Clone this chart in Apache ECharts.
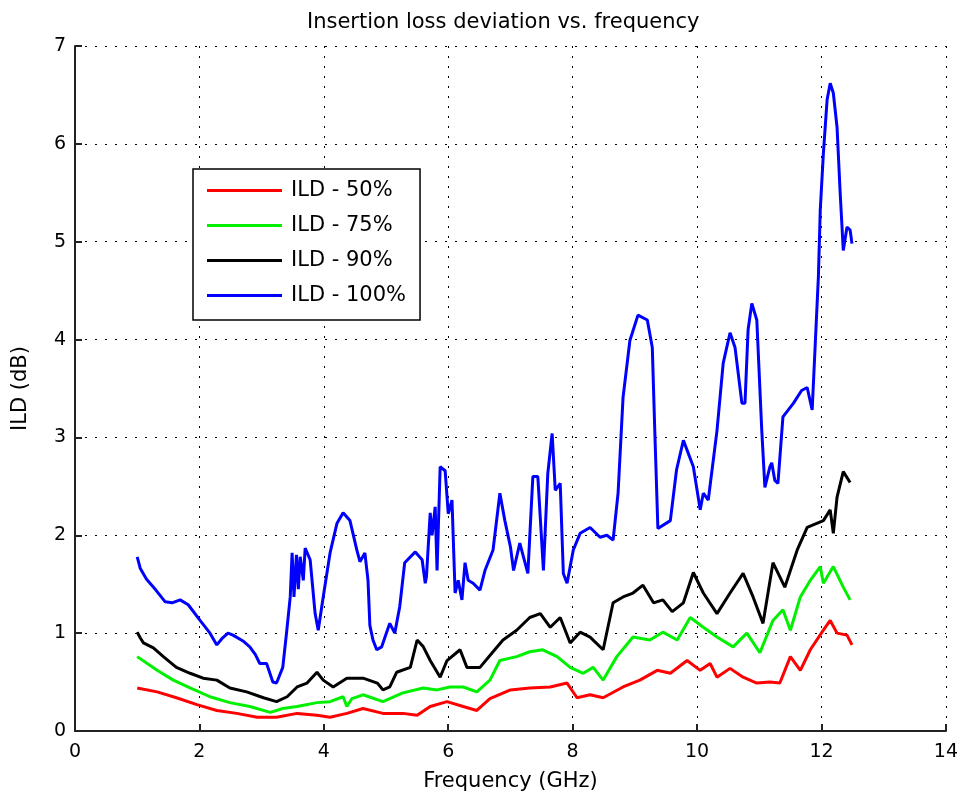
<!DOCTYPE html>
<html>
<head>
<meta charset="utf-8">
<title>Insertion loss deviation vs. frequency</title>
<script src="https://cdn.jsdelivr.net/npm/echarts@6/dist/echarts.min.js"></script>
<style>
  html, body { margin: 0; padding: 0; background: #fff; }
  #chart { width: 961px; height: 802px; }
</style>
</head>
<body>
<div id="chart"></div>
<script>
// values, [frequency GHz, ILD dB]
const seriesNames = ['ILD - 50%', 'ILD - 75%', 'ILD - 90%', 'ILD - 100%'];
const xTicks = [0, 2, 4, 6, 8, 10, 12, 14];
const yTicks = [0, 1, 2, 3, 4, 5, 6, 7];

const ild50 = [
  [1.0,0.44],[1.32,0.4],[1.63,0.34],[1.96,0.27],[2.28,0.21],[2.6,0.18],[2.93,0.14],[3.24,0.14],
  [3.57,0.18],[3.89,0.16],[4.1,0.14],[4.37,0.18],[4.63,0.23],[4.95,0.18],[5.27,0.18],[5.5,0.16],
  [5.71,0.25],[5.98,0.3],[6.24,0.25],[6.46,0.21],[6.67,0.33],[7.0,0.42],[7.31,0.44],[7.64,0.45],
  [7.91,0.49],[8.07,0.34],[8.28,0.37],[8.49,0.34],[8.81,0.45],[9.08,0.52],[9.36,0.62],[9.57,0.59],
  [9.84,0.72],[10.05,0.62],[10.21,0.69],[10.32,0.55],[10.53,0.64],[10.74,0.55],[10.96,0.49],[11.17,0.5],
  [11.33,0.49],[11.5,0.76],[11.66,0.62],[11.82,0.83],[12.03,1.03],[12.14,1.13],[12.25,1.0],[12.41,0.98],[12.49,0.88]
];

const ild75 = [
  [1.0,0.76],[1.32,0.62],[1.58,0.52],[1.85,0.44],[2.17,0.35],[2.49,0.29],[2.81,0.25],[3.14,0.19],
  [3.34,0.23],[3.57,0.25],[3.89,0.29],[4.1,0.3],[4.31,0.35],[4.37,0.25],[4.45,0.33],[4.63,0.37],
  [4.95,0.3],[5.27,0.39],[5.6,0.44],[5.82,0.42],[6.03,0.45],[6.24,0.45],[6.46,0.4],[6.67,0.52],
  [6.83,0.72],[7.1,0.76],[7.31,0.81],[7.52,0.83],[7.75,0.76],[7.96,0.65],[8.17,0.59],[8.33,0.65],
  [8.49,0.52],[8.71,0.76],[8.97,0.96],[9.24,0.93],[9.45,1.01],[9.68,0.93],[9.89,1.16],[10.1,1.06],
  [10.32,0.96],[10.58,0.86],[10.8,1.0],[11.01,0.8],[11.22,1.13],[11.38,1.24],[11.5,1.03],[11.66,1.37],
  [11.82,1.54],[11.98,1.68],[12.03,1.51],[12.19,1.68],[12.35,1.47],[12.46,1.34]
];

const ild90 = [
  [1.0,1.01],[1.05,0.95],[1.1,0.9],[1.26,0.85],[1.42,0.76],[1.63,0.65],[1.85,0.59],[2.06,0.54],
  [2.28,0.52],[2.49,0.44],[2.76,0.4],[3.03,0.34],[3.24,0.3],[3.41,0.35],[3.57,0.45],[3.73,0.49],
  [3.89,0.6],[3.99,0.52],[4.15,0.45],[4.37,0.54],[4.63,0.54],[4.86,0.49],[4.95,0.42],[5.06,0.45],
  [5.17,0.6],[5.39,0.65],[5.5,0.93],[5.6,0.86],[5.71,0.72],[5.87,0.55],[5.98,0.72],[6.19,0.83],
  [6.3,0.65],[6.51,0.65],[6.72,0.81],[6.88,0.93],[7.1,1.03],[7.31,1.16],[7.48,1.2],[7.64,1.06],
  [7.8,1.16],[7.96,0.9],[8.12,1.01],[8.28,0.96],[8.49,0.83],[8.65,1.31],[8.81,1.37],[8.97,1.41],
  [9.13,1.49],[9.3,1.31],[9.45,1.34],[9.6,1.22],[9.78,1.31],[9.94,1.62],[10.1,1.41],[10.32,1.2],
  [10.53,1.41],[10.74,1.61],[10.9,1.37],[11.06,1.1],[11.22,1.72],[11.41,1.47],[11.61,1.85],[11.77,2.08],
  [12.03,2.15],[12.14,2.26],[12.19,2.02],[12.25,2.39],[12.35,2.65],[12.46,2.54]
];

const ild100 = [
  [1.0,1.78],[1.05,1.66],[1.15,1.55],[1.3,1.44],[1.45,1.32],[1.56,1.31],[1.69,1.34],[1.82,1.29],
  [2.01,1.13],[2.17,1.0],[2.28,0.88],[2.37,0.95],[2.46,1.0],[2.54,0.98],[2.7,0.92],[2.81,0.86],
  [2.9,0.78],[2.97,0.69],[3.08,0.69],[3.18,0.5],[3.24,0.49],[3.34,0.65],[3.4,1.0],[3.46,1.37],
  [3.49,1.82],[3.52,1.37],[3.56,1.8],[3.59,1.45],[3.62,1.78],[3.67,1.54],[3.7,1.87],[3.78,1.75],
  [3.86,1.2],[3.91,1.03],[3.99,1.37],[4.1,1.82],[4.21,2.12],[4.31,2.23],[4.42,2.15],[4.53,1.85],
  [4.58,1.73],[4.66,1.82],[4.71,1.54],[4.74,1.08],[4.79,0.93],[4.85,0.83],[4.93,0.86],[5.06,1.1],
  [5.14,1.0],[5.22,1.27],[5.3,1.72],[5.47,1.83],[5.58,1.75],[5.63,1.51],[5.65,1.58],[5.71,2.23],
  [5.74,2.0],[5.79,2.29],[5.82,1.64],[5.87,2.7],[5.95,2.66],[6.0,2.22],[6.06,2.36],[6.11,1.41],
  [6.16,1.54],[6.22,1.34],[6.27,1.72],[6.32,1.54],[6.4,1.51],[6.51,1.44],[6.59,1.64],[6.72,1.85],
  [6.83,2.43],[6.91,2.15],[7.0,1.88],[7.05,1.64],[7.15,1.92],[7.28,1.61],[7.36,2.6],[7.44,2.6],
  [7.53,1.64],[7.6,2.63],[7.67,3.04],[7.72,2.46],[7.8,2.53],[7.85,1.61],[7.91,1.51],[8.01,1.85],
  [8.12,2.02],[8.28,2.08],[8.44,1.98],[8.55,2.0],[8.65,1.95],[8.73,2.43],[8.81,3.41],[8.92,3.99],
  [9.05,4.25],[9.2,4.2],[9.28,3.92],[9.32,3.07],[9.37,2.07],[9.57,2.15],[9.67,2.67],[9.78,2.97],
  [9.94,2.7],[10.05,2.26],[10.1,2.43],[10.18,2.36],[10.32,3.07],[10.42,3.76],[10.53,4.07],[10.61,3.92],
  [10.72,3.35],[10.77,3.35],[10.82,4.1],[10.88,4.37],[10.96,4.2],[11.04,3.07],[11.09,2.49],[11.17,2.7],
  [11.2,2.74],[11.25,2.56],[11.3,2.53],[11.38,3.21],[11.55,3.35],[11.68,3.48],[11.77,3.51],[11.85,3.28],
  [11.9,3.96],[11.95,4.64],[11.98,5.32],[12.03,5.9],[12.09,6.45],[12.14,6.62],[12.19,6.52],[12.25,6.17],
  [12.3,5.5],[12.33,5.15],[12.35,4.91],[12.41,5.15],[12.46,5.12],[12.49,4.98]
];

const colors = ['#ff0000', '#00f000', '#000000', '#0000ff'];
const font = 'DejaVu Sans';

const myChart = echarts.init(document.getElementById('chart'), null, { renderer: 'canvas' });

const seriesData = [ild50, ild75, ild90, ild100];
const series = seriesData.map((d, i) => ({
  name: seriesNames[i],
  type: 'line',
  data: d,
  showSymbol: false,
  symbol: 'none',
  animation: false,
  lineStyle: { width: 3, color: colors[i] },
  itemStyle: { color: colors[i] }
}));

const gridLine = { show: true, lineStyle: { color: '#000', type: [2, 8], width: 1 } };

myChart.setOption({
  backgroundColor: '#fff',
  animation: false,
  color: colors,
  textStyle: { fontFamily: font },
  title: {
    text: 'Insertion loss deviation vs. frequency',
    left: 302,
    top: 7,
    textStyle: { fontFamily: font, fontSize: 21, fontWeight: 'normal', color: '#000' }
  },
  legend: {
    orient: 'vertical',
    left: 193,
    top: 169,
    padding: [11, 14, 14, 14],
    itemGap: 14,
    itemWidth: 75,
    itemHeight: 3,
    icon: 'rect',
    backgroundColor: '#fff',
    borderColor: '#000',
    borderWidth: 1.5,
    borderRadius: 0,
    data: seriesNames,
    textStyle: { fontFamily: font, fontSize: 21, color: '#000', lineHeight: 21, padding: [0, 0, 0, 4] }
  },
  grid: { left: 75, right: 15, top: 46, bottom: 71, containLabel: false },
  xAxis: {
    type: 'value',
    min: xTicks[0],
    max: xTicks[xTicks.length - 1],
    interval: 2,
    name: 'Frequency (GHz)',
    nameLocation: 'middle',
    nameGap: 40,
    nameTextStyle: { fontFamily: font, fontSize: 21, color: '#000' },
    axisLine: { lineStyle: { color: '#222', width: 2 } },
    axisTick: { inside: true, length: 7, lineStyle: { color: '#222', width: 2 } },
    axisLabel: { fontFamily: font, fontSize: 19, color: '#000', margin: 12 },
    splitLine: gridLine
  },
  yAxis: {
    type: 'value',
    min: yTicks[0],
    max: yTicks[yTicks.length - 1],
    interval: 1,
    name: 'ILD (dB)',
    nameLocation: 'middle',
    nameGap: 44,
    nameTextStyle: { fontFamily: font, fontSize: 21, color: '#000' },
    axisLine: { lineStyle: { color: '#222', width: 2 } },
    axisTick: { inside: true, length: 7, lineStyle: { color: '#222', width: 2 } },
    axisLabel: { fontFamily: font, fontSize: 19, color: '#000', margin: 9 },
    splitLine: gridLine
  },
  series: series
});
</script>
</body>
</html>
